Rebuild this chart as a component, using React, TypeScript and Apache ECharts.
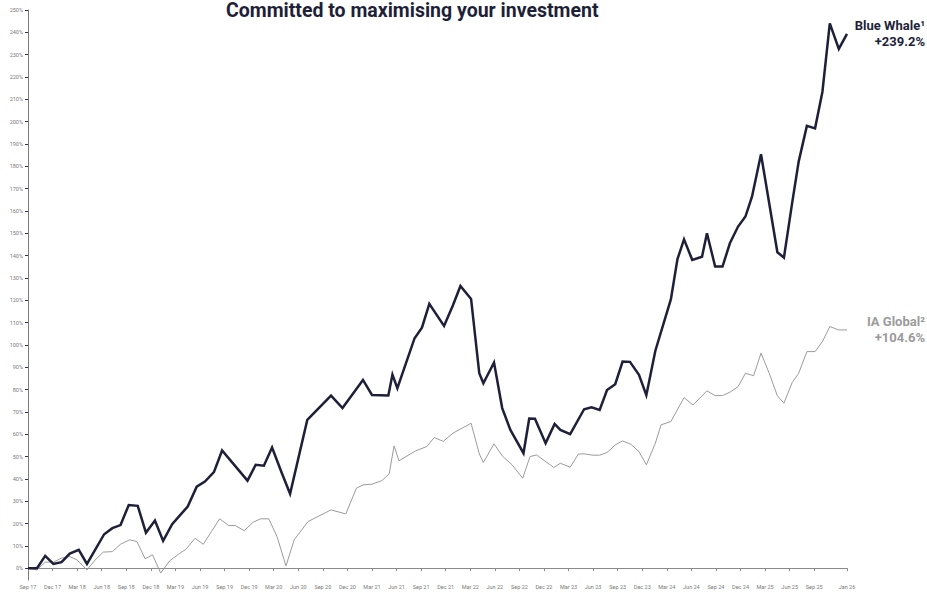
import React, { useEffect, useRef } from 'react';
import * as echarts from 'echarts';

const TITLE = 'Committed to maximising your investment';

// x tick labels, one every 3 months from Sep 17, plus the final month
const xTickLabels = [
  'Sep 17', 'Dec 17', 'Mar 18', 'Jun 18', 'Sep 18', 'Dec 18', 'Mar 19', 'Jun 19',
  'Sep 19', 'Dec 19', 'Mar 20', 'Jun 20', 'Sep 20', 'Dec 20', 'Mar 21', 'Jun 21',
  'Sep 21', 'Dec 21', 'Mar 22', 'Jun 22', 'Sep 22', 'Dec 22', 'Mar 23', 'Jun 23',
  'Sep 23', 'Dec 23', 'Mar 24', 'Jun 24', 'Sep 24', 'Dec 24', 'Mar 25', 'Jun 25',
  'Sep 25', 'Dec 25', 'Jan 26',
];
const LAST_MONTH = 100; // months after Sep 17 (Jan 26)

// Blue Whale: months after Sep 2017, cumulative return %
const bwMonths = [
  0, 1.1, 2.1, 3.1, 4.1, 5.1, 6.2, 7.2, 9.3, 10.3, 11.3, 12.3, 13.4, 14.4, 15.5, 16.5,
  17.6, 18.6, 19.5, 20.6, 21.6, 22.7, 23.7, 26.8, 27.8, 28.8, 29.8, 31.0, 32.0, 34.1,
  37.0, 38.4, 40.9, 42.0, 44.0, 44.5, 45.1, 47.2, 48.1, 49.0, 50.8, 51.9, 52.8, 54.1,
  55.1, 55.6, 56.9, 57.9, 58.9, 60.5, 61.2, 61.9, 63.2, 64.3, 65.0, 66.2, 67.9, 68.8,
  69.8, 70.7, 71.7, 72.6, 73.5, 74.6, 75.5, 76.6, 78.5, 79.3, 80.1, 81.1, 82.3, 82.9,
  83.9, 84.8, 85.7, 86.7, 87.6, 88.4, 89.5, 91.5, 92.3, 93.3, 94.1, 95.1, 96.1, 97.0,
  97.9, 99.0, 100,
];
const bwValues = [
  0, 0, 5.5, 1.9, 2.7, 6.5, 8.2, 1.9, 15.2, 17.9, 19.3, 28.3, 27.9, 15.9, 21.3, 12.2,
  19.7, 23.9, 27.6, 36.5, 38.8, 43.0, 52.7, 39.2, 46.3, 45.9, 54.0, 42.5, 33.3, 66.4,
  77.3, 71.7, 84.3, 77.6, 77.3, 86.7, 80.6, 103.0, 107.7, 118.4, 108.5, 117.9, 126.4, 120.6,
  87.3, 82.8, 92.1, 71.7, 61.9, 51.5, 67.0, 66.9, 56.0, 64.6, 61.9, 60.0, 71.2, 72.1,
  70.9, 79.8, 82.4, 92.5, 92.4, 86.6, 77.5, 97.4, 120.5, 138.4, 147.3, 138.1, 139.5, 150.0,
  135.1, 135.1, 145.5, 153.0, 157.5, 166.4, 185.4, 141.5, 139.1, 163.5, 182.1, 198.1, 197.0, 213.4,
  244.0, 232.6, 239.3,
];

// IA Global sector
const iaMonths = [
  0, 1.1, 2.1, 3.1, 4.1, 5.1, 6.0, 7.2, 8.2, 9.2, 10.3, 11.3, 12.4, 13.3, 14.3, 15.2,
  16.2, 17.3, 18.4, 19.3, 20.4, 21.4, 22.4, 23.4, 24.5, 25.3, 26.4, 27.5, 28.4, 29.4,
  30.4, 31.5, 32.5, 34.2, 37.0, 38.8, 40.1, 40.9, 42.0, 43.2, 44.1, 44.7, 45.3, 47.3,
  48.7, 49.6, 50.7, 51.9, 54.1, 55.1, 55.6, 56.9, 57.9, 59.1, 60.4, 61.3, 62.1, 64.2,
  65.0, 66.2, 67.2, 67.9, 69.0, 69.8, 70.7, 71.7, 72.6, 73.6, 74.6, 75.5, 76.6, 77.3,
  78.5, 80.1, 81.2, 82.9, 83.9, 84.8, 85.7, 86.7, 87.6, 88.6, 89.5, 90.5, 91.5, 92.3,
  93.3, 94.1, 95.1, 96.1, 97.0, 97.9, 99.0, 100,
];
const iaValues = [
  0, -0.8, 2.7, 2.7, 4.5, 5.2, 3.7, -0.8, 3.7, 7.2, 7.4, 10.7, 12.7, 11.9, 4.2, 6.0,
  -2.2, 3.3, 6.3, 8.5, 13.4, 10.7, 16.4, 22.1, 19.1, 19.1, 16.8, 20.6, 22.1, 22.1,
  14.2, 1.0, 12.7, 20.9, 26.1, 24.3, 35.8, 37.3, 37.6, 39.2, 42.2, 54.8, 48.1, 52.5,
  54.5, 58.5, 56.8, 60.5, 64.9, 51.2, 47.3, 55.7, 50.3, 46.3, 40.3, 50.0, 50.7, 45.1,
  47.0, 45.2, 51.1, 51.2, 50.6, 50.6, 51.8, 55.2, 57.0, 55.5, 52.2, 46.3, 56.0, 64.2,
  65.7, 76.4, 73.1, 79.4, 77.3, 77.3, 78.8, 81.3, 87.3, 86.2, 96.3, 87.3, 77.2, 73.9,
  83.1, 87.3, 97.0, 97.0, 101.5, 108.2, 106.7, 106.7,
];

const bwLabel = ['Blue Whale¹', '+239.2%'];
const iaLabel = ['IA Global²', '+104.6%'];

const NAVY = '#1e1f38';
const GREY = '#9b9b9b';

export default function App() {
  const ref = useRef<HTMLDivElement>(null);

  useEffect(() => {
    if (!ref.current) return;
    const chart = echarts.init(ref.current, null, { renderer: 'svg' });
    const labelFont = { fontFamily: 'Roboto', fontWeight: 'bold' as const, fontSize: 13, lineHeight: 16 };
    chart.setOption({
      animation: false,
      backgroundColor: '#ffffff',
      textStyle: { fontFamily: 'Roboto' },
      title: {
        text: TITLE,
        left: 226,
        top: 0,
        padding: 0,
        textStyle: { fontFamily: 'Roboto', fontWeight: 'bold', fontSize: 19.5, lineHeight: 20, color: NAVY },
      },
      grid: { left: 28, right: 80, top: 10, bottom: 12, containLabel: false },
      xAxis: {
        type: 'value',
        min: 0,
        max: LAST_MONTH,
        interval: 3,
        splitLine: { show: false },
        axisLine: { show: true, lineStyle: { color: '#8a8a8a', width: 1 } },
        axisTick: { show: true, length: 3, lineStyle: { color: '#8a8a8a' } },
        axisLabel: {
          show: true,
          fontSize: 5.5,
          color: '#7a7a7a',
          margin: 4,
          showMinLabel: true,
          showMaxLabel: true,
          hideOverlap: false,
          formatter: (v: number) => {
            if (v === LAST_MONTH) return xTickLabels[xTickLabels.length - 1];
            const i = Math.round(v / 3);
            return xTickLabels[i] ?? '';
          },
        },
      },
      yAxis: {
        type: 'value',
        min: -5.3,
        max: 250,
        splitNumber: 25,
        minInterval: 10,
        maxInterval: 10,
        splitLine: { show: false },
        axisLine: { show: true, lineStyle: { color: '#7a7a7a', width: 1 } },
        axisTick: { show: true, length: 3, lineStyle: { color: '#33344a' } },
        axisLabel: {
          fontSize: 5.5,
          color: '#7a7a7a',
          margin: 5,
          showMinLabel: false,
          formatter: (v: number) => (v < 0 ? '' : `${Math.round(v)}%`),
        },
      },
      series: [
        {
          name: 'IA Global',
          type: 'line',
          data: iaMonths.map((m, i) => [m, iaValues[i]]),
          showSymbol: false,
          symbol: 'none',
          clip: false,
          lineStyle: { color: GREY, width: 1, join: 'miter' },
          z: 2,
          endLabel: {
            show: true,
            align: 'right',
            distance: 78,
            formatter: iaLabel.join('\n'),
            color: GREY,
            ...labelFont,
          },
        },
        {
          name: 'Blue Whale',
          type: 'line',
          data: bwMonths.map((m, i) => [m, bwValues[i]]),
          showSymbol: false,
          symbol: 'none',
          clip: false,
          lineStyle: { color: NAVY, width: 2.5, join: 'miter' },
          z: 3,
          endLabel: {
            show: true,
            align: 'right',
            distance: 78,
            formatter: bwLabel.join('\n'),
            color: NAVY,
            padding: [0, 0, 8, 0],
            ...labelFont,
          },
        },
      ],
    });
    return () => chart.dispose();
  }, []);

  return (
    <div
      ref={ref}
      style={{ position: 'fixed', left: 0, top: 0, width: 927, height: 592 }}
    />
  );
}
